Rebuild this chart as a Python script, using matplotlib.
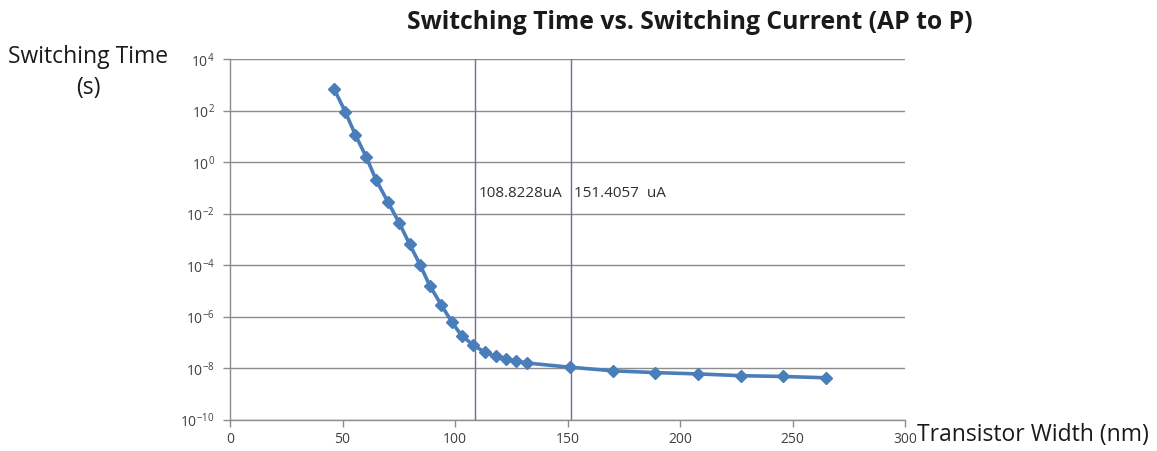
import matplotlib
matplotlib.use("Agg")
import matplotlib.pyplot as plt
from matplotlib.ticker import FixedLocator, NullLocator, LogFormatterMathtext, MultipleLocator

plt.rcParams['font.family'] = ['Open Sans', 'DejaVu Sans']

# transistor width (nm) and switching time (s), AP -> P
width_nm = [46.3, 51.2, 55.7, 60.6, 64.9, 70.2, 75.2, 79.8, 84.6, 88.8,
            93.8, 98.7, 102.9, 108.1, 113.3, 118.0, 122.8, 127.3, 132.2,
            151.0, 170.2, 189.1, 207.9, 227.2, 245.7, 264.7]
log_time = [2.84, 1.97, 1.07, 0.20, -0.68, -1.54, -2.35, -3.17, -4.00, -4.79,
            -5.52, -6.21, -6.72, -7.09, -7.37, -7.53, -7.63, -7.71, -7.79,
            -7.95, -8.09, -8.16, -8.21, -8.28, -8.31, -8.36]
switch_time = [10 ** v for v in log_time]

# y ticks every two decades
y_ticks = [1e-10, 1e-8, 1e-6, 1e-4, 1e-2, 1e0, 1e2, 1e4]

# marker lines for the two switching currents
ref_x = [108.8, 151.4]
ref_labels = ["108.8228uA", "151.4057  uA"]

fig = plt.figure(figsize=(11.57, 4.51), dpi=100)
ax = fig.add_axes([0.1988, 0.0687, 0.5834, 0.7998])

ax.plot(width_nm, switch_time, color="#4A7EBB", lw=2.6, marker="D",
        markersize=6, markerfacecolor="#4A7EBB", markeredgecolor="#4A7EBB",
        zorder=3)

ax.set_yscale("log")
ax.set_ylim(1e-10, 1e4)
ax.set_xlim(0, 300)
ax.yaxis.set_major_locator(FixedLocator(y_ticks))
ax.yaxis.set_minor_locator(NullLocator())
ax.yaxis.set_major_formatter(LogFormatterMathtext(base=10.0))
ax.xaxis.set_major_locator(MultipleLocator(50))

ax.grid(axis="y", color="#8c8c8c", lw=1.0)
ax.set_axisbelow(True)
for s in ["top", "right"]:
    ax.spines[s].set_visible(False)
for s in ["left", "bottom"]:
    ax.spines[s].set_color("#8c8c8c")
    ax.spines[s].set_linewidth(1.0)
ax.tick_params(axis="both", colors="#8c8c8c", labelcolor="#404040",
               labelsize=10, length=5, width=1.0)
ax.tick_params(axis="y", pad=6)

for xv, lbl in zip(ref_x, ref_labels):
    ax.axvline(xv, color="#5f7592", lw=1.0, zorder=2)
    ax.text(xv + 1.6, 10 ** -1.2, lbl, fontsize=11, color="#303030",
            va="center", ha="left")

fig.text(0.596, 0.95, "Switching Time vs. Switching Current (AP to P)",
         fontsize=17.8, fontweight="bold", ha="center", va="center",
         color="#1a1a1a")
fig.text(0.0765, 0.839, "Switching Time\n(s)", fontsize=16.5, ha="center",
         va="center", color="#1a1a1a", linespacing=1.35)
fig.text(0.7925, 0.035, "Transistor Width (nm)", fontsize=16.5, ha="left",
         va="center", color="#1a1a1a")

fig.savefig("out.png", dpi=100)
